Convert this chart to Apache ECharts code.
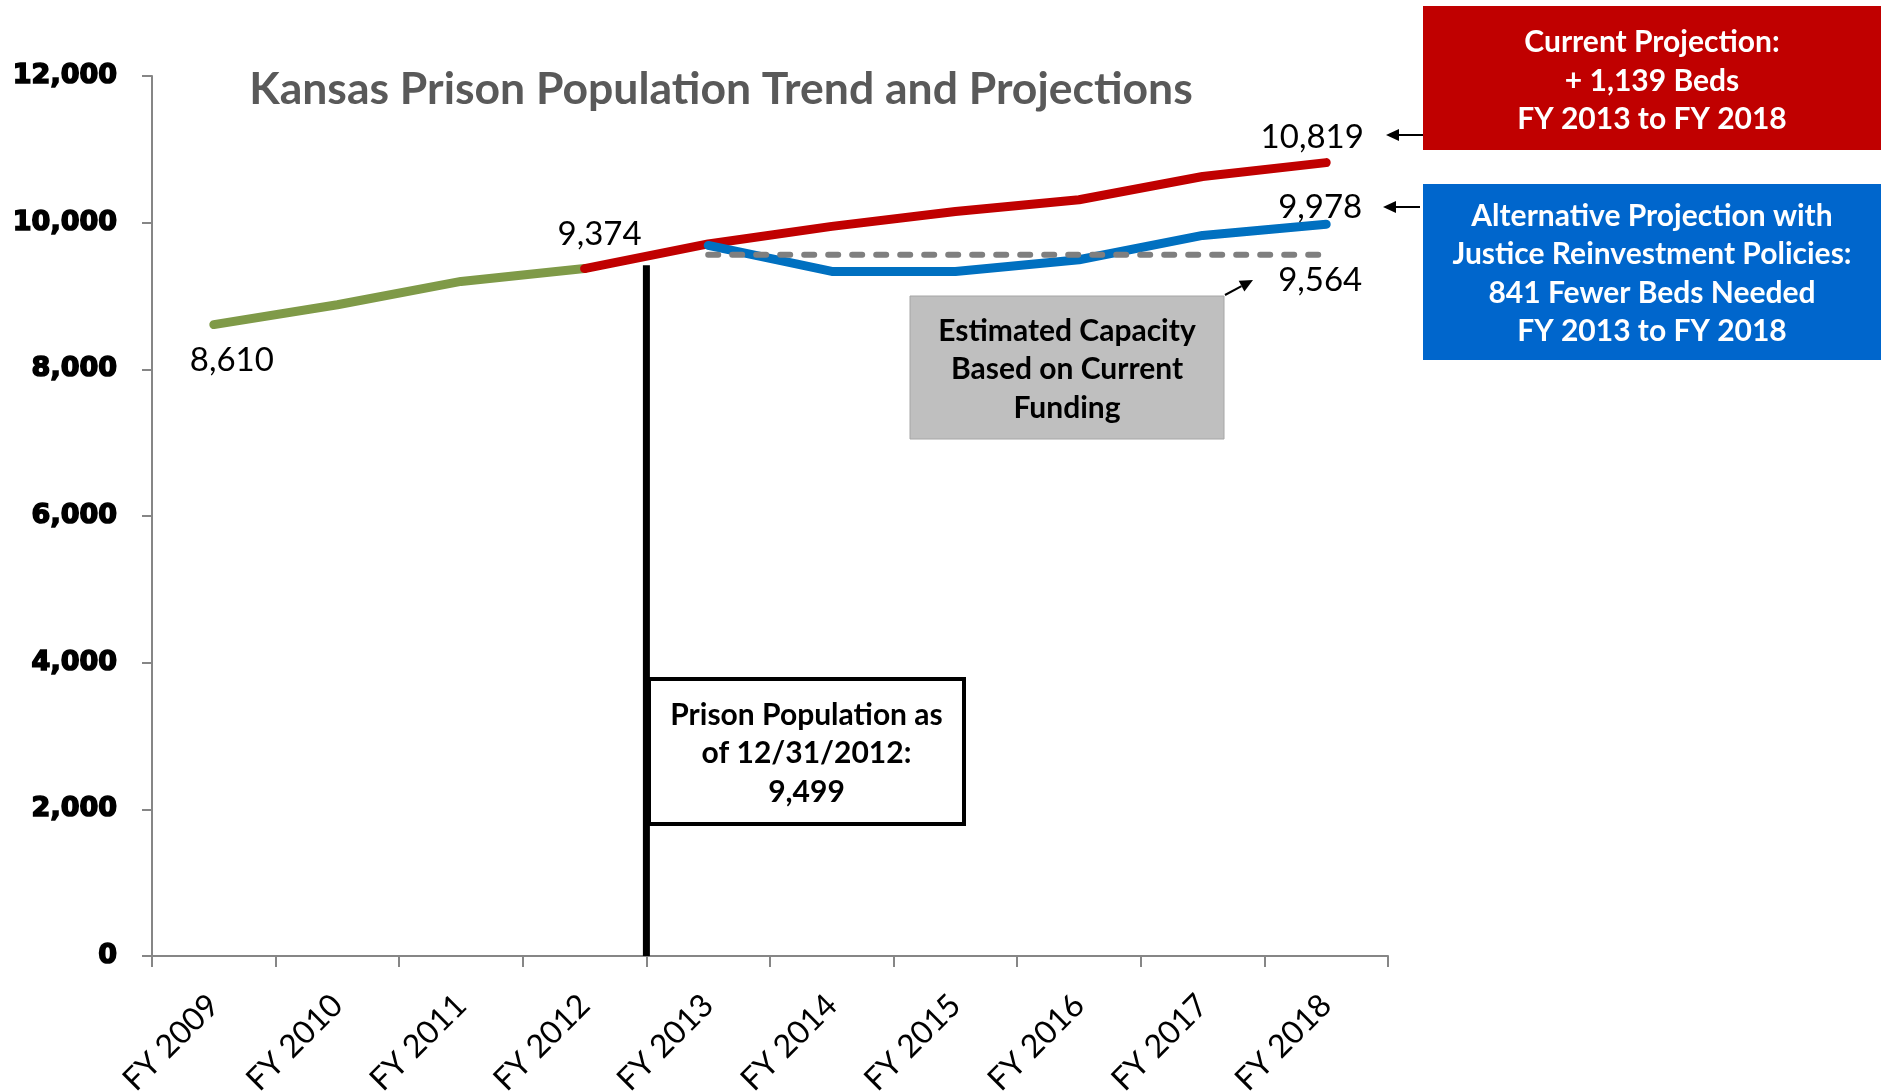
<!DOCTYPE html>
<html><head><meta charset="utf-8">
<script src="https://cdn.jsdelivr.net/npm/echarts@6/dist/echarts.min.js"></script>
<style>html,body{margin:0;padding:0;background:#fff}#c{width:1881px;height:1091px}</style>
</head><body><div id="c"></div>
<script>
const categories = ['FY 2009','FY 2010','FY 2011','FY 2012','FY 2013','FY 2014','FY 2015','FY 2016','FY 2017','FY 2018'];
const historical = [8610, 8881, 9199, 9374, null, null, null, null, null, null];
const currentProjection = [null, null, null, 9374, 9710, 9950, 10153, 10312, 10630, 10819];
const alternativeProjection = [null, null, null, null, 9690, 9335, 9335, 9494, 9826, 9978];
const estimatedCapacity = [null, null, null, null, 9564, 9564, 9564, 9564, 9564, 9564];
const yTicks = [0, 2000, 4000, 6000, 8000, 10000, 12000];
// vertical marker at the FY2012 / FY2013 boundary (hidden 0..10 value axis)
const markerX = 4;
const markerTop = 9420;
const titleText = 'Kansas Prison Population Trend and Projections';
const redBoxText = ['Current Projection:', '+ 1,139 Beds', 'FY 2013 to FY 2018'];
const blueBoxText = ['Alternative Projection with', 'Justice Reinvestment Policies:', '841 Fewer Beds Needed', 'FY 2013 to FY 2018'];
const capacityBoxText = ['Estimated Capacity', 'Based on Current', 'Funding'];
const prisonBoxText = ['Prison Population as', 'of 12/31/2012:', '9,499'];

const LABEL_FONT = 'Lato';
function fmt(v){ return v.toLocaleString('en-US'); }
function withLabels(arr, labelMap){
  return arr.map((v, i) => {
    if (v == null) return null;
    if (labelMap[i]) {
      return { value: v, label: { show: true, position: 'inside', offset: labelMap[i], formatter: fmt(v),
        color: '#000', fontFamily: LABEL_FONT, fontSize: 33 } };
    }
    return v;
  });
}

const chart = echarts.init(document.getElementById('c'));
const baseLine = (name, data, color, width, extra) => Object.assign({
  name, type: 'line', data, symbol: 'circle', symbolSize: 0, showSymbol: true,
  itemStyle: { color }, lineStyle: { color, width, cap: 'round', join: 'round' },
  label: { show: false }, emphasis: { disabled: true }, animation: false, connectNulls: false
}, extra || {});

function box(x, y, w, h, fill, stroke, lw, lines, color, size, lh, dy){
  return {
    type: 'group', x, y, children: [
      { type: 'rect', shape: { x: 0, y: 0, width: w, height: h }, style: { fill, stroke, lineWidth: lw } },
      { type: 'text', x: w / 2, y: h / 2 + (dy || 0), style: { text: lines.join('\n'), fill: color, font: 'bold ' + size + 'px Lato',
        align: 'center', verticalAlign: 'middle', lineHeight: lh } }
    ]
  };
}
function arrow(x1, y1, x2, y2){
  const dx = x2 - x1, dy = y2 - y1, L = Math.hypot(dx, dy), ux = dx / L, uy = dy / L;
  const hl = 13, hw = 6;
  const bx = x2 - ux * hl, by = y2 - uy * hl;
  return [
    { type: 'line', shape: { x1, y1, x2: bx, y2: by }, style: { stroke: '#000', lineWidth: 2 } },
    { type: 'polygon', shape: { points: [[x2, y2], [bx - uy * hw, by + ux * hw], [bx + uy * hw, by - ux * hw]] }, style: { fill: '#000' } }
  ];
}

chart.setOption({
  backgroundColor: '#fff',
  animation: false,
  title: { text: titleText, left: 716, top: 62, textAlign: 'center',
    textStyle: { color: '#595959', fontFamily: 'Lato', fontWeight: 'bold', fontSize: 44.5 } },
  grid: { left: 152, top: 76, width: 1236, height: 880, containLabel: false, outerBoundsMode: 'none' },
  xAxis: [
    { type: 'category', data: categories, boundaryGap: true,
      axisLine: { lineStyle: { color: '#868686', width: 2 } },
      axisTick: { show: true, length: 11, lineStyle: { color: '#868686', width: 2 }, interval: 0 },
      axisLabel: { interval: 0, rotate: 45, margin: 44, color: '#000', fontFamily: 'Lato', fontSize: 32 } },
    { type: 'value', min: 0, max: 10, show: false }
  ],
  yAxis: { type: 'value', min: yTicks[0], max: yTicks[yTicks.length - 1], interval: 2000,
    axisLine: { show: true, lineStyle: { color: '#868686', width: 2 } },
    axisTick: { show: true, length: 10, lineStyle: { color: '#868686', width: 2 } },
    splitLine: { show: false },
    axisLabel: { margin: 35, color: '#000', fontFamily: 'DejaVu Sans', fontWeight: 'bold', fontSize: 27,
      textBorderColor: '#000', textBorderWidth: 1.6, formatter: v => fmt(v) } },
  series: [
    { name: 'Marker', type: 'line', xAxisIndex: 1, data: [[markerX, 0], [markerX, markerTop]], symbol: 'none',
      lineStyle: { color: '#000', width: 7, cap: 'butt' }, z: 1, silent: true },
    baseLine('Historical', withLabels(historical, { 0: [18, 36] }), '#7f9a48', 9),
    baseLine('Current Projection', withLabels(currentProjection, { 3: [15, -34], 9: [-14, -25] }), '#c00000', 9),
    baseLine('Alternative Projection', withLabels(alternativeProjection, { 9: [-6, -17] }), '#0070c0', 9),
    baseLine('Estimated Capacity', withLabels(estimatedCapacity, { 9: [-6, 26] }), '#7f7f7f', 5,
      { lineStyle: { color: '#7f7f7f', width: 6, type: [10, 14], cap: 'round' } })
  ],
  graphic: [
    box(1423, 6, 458, 144, '#c00000', null, 0, redBoxText, '#fff', 30, 38.5, 3),
    box(1423, 184, 458, 176, '#0066cc', null, 0, blueBoxText, '#fff', 30, 38.5, 2),
    box(910, 296, 314, 143, '#bfbfbf', '#a6a6a6', 1, capacityBoxText, '#000', 30, 38.5, 2),
    box(649, 679, 315, 145, '#fff', '#000', 4, prisonBoxText, '#000', 30, 38.5, 2),
    ...arrow(1423, 135, 1386, 135),
    ...arrow(1420, 207, 1383, 207),
    ...arrow(1225, 295, 1253, 280)
  ]
});
</script></body></html>
